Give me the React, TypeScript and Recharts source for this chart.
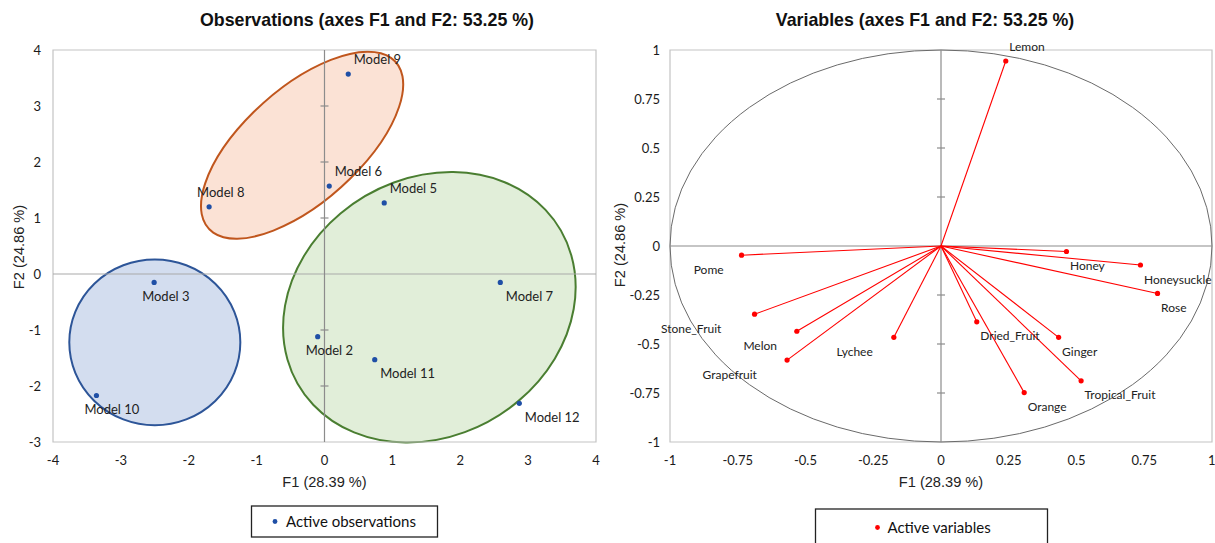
import React from 'react';
import { ScatterChart, Scatter, XAxis, YAxis, ReferenceLine, ReferenceArea, ReferenceDot } from 'recharts';

// ---------- Observations (left chart) ----------
const obsNames = ['Model 2', 'Model 3', 'Model 5', 'Model 6', 'Model 7', 'Model 8', 'Model 9', 'Model 10', 'Model 11', 'Model 12'];
const obsF1 = [-0.1, -2.51, 0.88, 0.07, 2.59, -1.7, 0.35, -3.36, 0.74, 2.87];
const obsF2 = [-1.12, -0.15, 1.27, 1.57, -0.15, 1.2, 3.57, -2.17, -1.53, -2.31];
const obsTicksX = [-4, -3, -2, -1, 0, 1, 2, 3, 4];
const obsTicksY = [-3, -2, -1, 0, 1, 2, 3, 4];

// Group ellipses: centre (F1, F2), semi-axes, rotation (degrees)
const ellCx = [-2.5, -0.33, 1.545];
const ellCy = [-1.22, 2.3, -0.595];
const ellA = [1.26, 2.037, 2.494];
const ellB = [1.48, 0.927, 2.063];
const ellAngle = [0, 50, 63.6];
const ellFill = ['#d3ddef', '#fbe2d5', '#e1eed9'];
const ellStroke = ['#2d5598', '#c0561d', '#4a7e31'];

// ---------- Variables (right chart) ----------
const varNames = ['Lemon', 'Pome', 'Stone_Fruit', 'Melon', 'Grapefruit', 'Lychee', 'Dried_Fruit', 'Orange', 'Ginger', 'Tropical_Fruit', 'Honey', 'Honeysuckle', 'Rose'];
const varF1 = [0.239, -0.736, -0.688, -0.532, -0.568, -0.174, 0.132, 0.307, 0.434, 0.517, 0.463, 0.736, 0.799];
const varF2 = [0.944, -0.047, -0.348, -0.435, -0.582, -0.466, -0.387, -0.748, -0.466, -0.688, -0.028, -0.097, -0.242];
const varTicks = [-1, -0.75, -0.5, -0.25, 0, 0.25, 0.5, 0.75, 1];

const titleObs = 'Observations (axes F1 and F2: 53.25 %)';
const titleVar = 'Variables (axes F1 and F2: 53.25 %)';
const axisF1 = 'F1 (28.39 %)';
const axisF2 = 'F2 (24.86 %)';
const legendObs = 'Active observations';
const legendVar = 'Active variables';

const obsData = obsNames.map((name, i) => ({ name, x: obsF1[i], y: obsF2[i] }));
const varData = varNames.map((name, i) => ({ name, x: varF1[i], y: varF2[i] }));

const LABEL_FONT = 'Lato, "Open Sans", sans-serif';
const TITLE_FONT = '"Liberation Sans", Arial, sans-serif';

let canvasEl: HTMLCanvasElement | null = null;
function textWidth(s: string, font: string): number {
  if (typeof document === 'undefined') return s.length * 6;
  if (!canvasEl) canvasEl = document.createElement('canvas');
  const ctx = canvasEl.getContext('2d');
  if (!ctx) return s.length * 6;
  ctx.font = font;
  return ctx.measureText(s).width;
}

function EllipseShape(props: any) {
  const { x, y, width, height, a, b, angle, fill, stroke, strokeWidth } = props;
  const sx = width / 2;
  const sy = height / 2;
  const cx = x + sx;
  const cy = y + sy;
  return (
    <ellipse
      cx={0}
      cy={0}
      rx={a}
      ry={b}
      transform={`translate(${cx} ${cy}) scale(${sx} ${-sy}) rotate(${angle})`}
      fill={fill}
      stroke={stroke}
      strokeWidth={strokeWidth}
      vectorEffect="non-scaling-stroke"
    />
  );
}

function ObsPoint(props: any) {
  const { cx, cy, payload } = props;
  if (cx == null || cy == null) return null;
  const above = payload.y > 0.5;
  const dx = payload.x < 0 ? -12 : 5.5;
  return (
    <g>
      <circle cx={cx} cy={cy} r={2.6} fill="#1f4fa6" />
      <text x={cx + dx} y={cy + (above ? -10 : 18.5)} fontFamily={LABEL_FONT} fontSize={13} fill="#222">
        {payload.name}
      </text>
    </g>
  );
}

function VarPoint(props: any) {
  const { cx, cy, payload } = props;
  if (cx == null || cy == null) return null;
  const above = payload.y > 0.5;
  const fs = 12;
  let tx: number;
  if (payload.x < 0) {
    const w = textWidth(payload.name, `${fs}px Lato`);
    tx = cx - w * 1.5 - 3;
  } else {
    tx = cx + 3.5;
  }
  return (
    <g>
      <circle cx={cx} cy={cy} r={2.6} fill="#ff0000" />
      <text x={tx} y={cy + (above ? -10 : 18.5)} fontFamily={LABEL_FONT} fontSize={fs} fill="#222">
        {payload.name}
      </text>
    </g>
  );
}

const tickStyle = { fontFamily: LABEL_FONT, fontSize: 13, fill: '#1a1a1a' };

export default function App() {
  return (
    <div style={{ position: 'absolute', left: 0, top: 0, width: 1215, height: 543, background: '#fff', overflow: 'hidden' }}>
      <div style={{ position: 'absolute', left: 0, top: 0 }}>
        <ScatterChart width={610} height={500} margin={{ top: 50, right: 14, bottom: 28, left: 23 }} style={{ overflow: 'visible' }}>
          <XAxis type="number" dataKey="x" domain={[-4, 4]} ticks={obsTicksX} axisLine={false} tickLine={false} tickMargin={8} tick={tickStyle} height={30} />
          <YAxis type="number" dataKey="y" domain={[-3, 4]} ticks={obsTicksY} axisLine={false} tickLine={false} tickMargin={6} tick={tickStyle} width={30} />
          {ellCx.map((cx, i) => (
            <ReferenceArea
              key={`ell-${i}`}
              x1={cx - 1}
              x2={cx + 1}
              y1={ellCy[i] - 1}
              y2={ellCy[i] + 1}
              ifOverflow="visible"
              shape={(p: any) => (
                <EllipseShape {...p} a={ellA[i]} b={ellB[i]} angle={ellAngle[i]} fill={ellFill[i]} stroke={ellStroke[i]} strokeWidth={2} />
              )}
            />
          ))}
          <ReferenceArea x1={-4} x2={4} y1={-3} y2={4} fill="none" fillOpacity={0} stroke="#c4c4c4" strokeWidth={1.2} ifOverflow="visible" />
          <ReferenceLine y={0} stroke="#a9a9a9" strokeWidth={1.2} />
          <ReferenceLine x={0} stroke="#8c8c8c" strokeWidth={1.2} />
          {obsTicksY.filter((t) => t !== 0 && t !== 4 && t !== -3).map((t) => (
            <ReferenceDot
              key={`ot-${t}`}
              x={0}
              y={t}
              r={0}
              shape={(p: any) => <line x1={p.cx - 4} x2={p.cx + 4} y1={p.cy} y2={p.cy} stroke="#8c8c8c" strokeWidth={1.2} />}
            />
          ))}
          <Scatter data={obsData} isAnimationActive={false} shape={(p: any) => <ObsPoint {...p} />} />
        </ScatterChart>
      </div>

      <div style={{ position: 'absolute', left: 610, top: 0 }}>
        <ScatterChart width={605} height={500} margin={{ top: 50, right: 3, bottom: 28, left: 30 }} style={{ overflow: 'visible' }}>
          <XAxis type="number" dataKey="x" domain={[-1, 1]} ticks={varTicks} axisLine={false} tickLine={false} tickMargin={8} tick={tickStyle} height={30} />
          <YAxis type="number" dataKey="y" domain={[-1, 1]} ticks={varTicks} axisLine={false} tickLine={false} tickMargin={4} tick={tickStyle} width={30} />
          <ReferenceArea x1={-1} x2={1} y1={-1} y2={1} fill="none" fillOpacity={0} stroke="#c4c4c4" strokeWidth={1.2} ifOverflow="visible" />
          <ReferenceArea
            x1={-1}
            x2={1}
            y1={-1}
            y2={1}
            ifOverflow="visible"
            shape={(p: any) => (
              <ellipse cx={p.x + p.width / 2} cy={p.y + p.height / 2} rx={p.width / 2} ry={p.height / 2} fill="none" stroke="#6a6a6a" strokeWidth={1} />
            )}
          />
          <ReferenceLine y={0} stroke="#8c8c8c" strokeWidth={1.2} />
          <ReferenceLine x={0} stroke="#8c8c8c" strokeWidth={1.2} />
          {varTicks.filter((t) => t !== 0 && Math.abs(t) !== 1).map((t) => (
            <ReferenceDot
              key={`vt-${t}`}
              x={0}
              y={t}
              r={0}
              shape={(p: any) => <line x1={p.cx - 4} x2={p.cx + 4} y1={p.cy} y2={p.cy} stroke="#8c8c8c" strokeWidth={1.2} />}
            />
          ))}
          {varData.map((d) => (
            <ReferenceLine
              key={`vec-${d.name}`}
              segment={[{ x: 0, y: 0 }, { x: d.x, y: d.y }]}
              stroke="#ff0000"
              strokeWidth={1.1}
              ifOverflow="visible"
            />
          ))}
          <Scatter data={varData} isAnimationActive={false} shape={(p: any) => <VarPoint {...p} />} />
        </ScatterChart>
      </div>

      <svg width={1215} height={543} style={{ position: 'absolute', left: 0, top: 0, pointerEvents: 'none' }}>
        <text x={367} y={26} textAnchor="middle" fontFamily={TITLE_FONT} fontWeight="bold" fontSize={17.8} fill="#111">{titleObs}</text>
        <text x={925} y={26} textAnchor="middle" fontFamily={TITLE_FONT} fontWeight="bold" fontSize={17.8} fill="#111">{titleVar}</text>

        <text x={324.5} y={487} textAnchor="middle" fontFamily={TITLE_FONT} fontSize={14.6} fill="#222">{axisF1}</text>
        <text x={941} y={487} textAnchor="middle" fontFamily={TITLE_FONT} fontSize={14.6} fill="#222">{axisF1}</text>
        <text x={0} y={0} transform="translate(24 247) rotate(-90)" textAnchor="middle" fontFamily={TITLE_FONT} fontSize={14.6} fill="#222">{axisF2}</text>
        <text x={0} y={0} transform="translate(625 245) rotate(-90)" textAnchor="middle" fontFamily={TITLE_FONT} fontSize={14.6} fill="#222">{axisF2}</text>

        <rect x={251.5} y={506} width={186} height={31} fill="#fff" stroke="#222" strokeWidth={1.3} />
        <circle cx={275} cy={521.5} r={2.4} fill="#1f4fa6" />
        <text x={286} y={527} fontFamily={LABEL_FONT} fontSize={15} fill="#111">{legendObs}</text>

        <rect x={815.5} y={509} width={232} height={40} fill="#fff" stroke="#222" strokeWidth={1.3} />
        <circle cx={877.5} cy={527.5} r={2.4} fill="#ff0000" />
        <text x={887.5} y={533} fontFamily={LABEL_FONT} fontSize={15} fill="#111">{legendVar}</text>
      </svg>
    </div>
  );
}
